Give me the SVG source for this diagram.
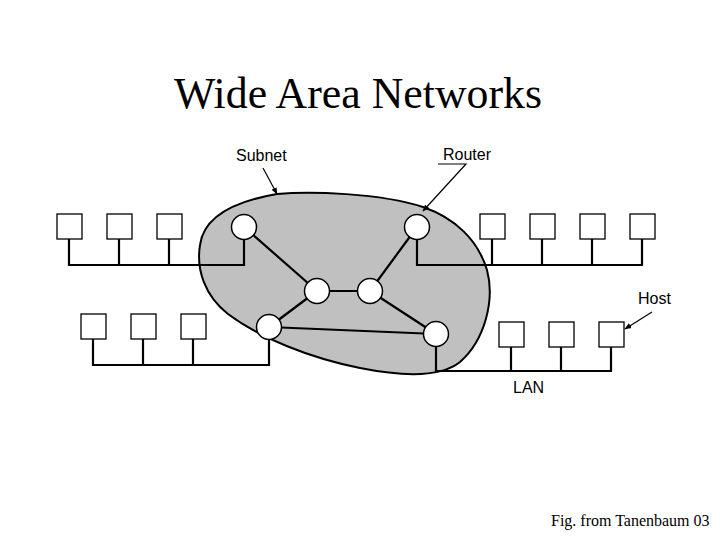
<svg xmlns="http://www.w3.org/2000/svg" width="720" height="540" viewBox="0 0 720 540">
<style>
.title{font-family:"Liberation Serif","Times New Roman",serif;font-size:43.8px;fill:#000}
.foot{font-family:"Liberation Serif","Times New Roman",serif;font-size:16px;fill:#000}
.lbl{font-family:"Liberation Sans",Arial,sans-serif;font-size:16px;fill:#000}
.host{fill:#fff;stroke:#000;stroke-width:1.3}
.router{fill:#fff;stroke:#000;stroke-width:1.5}
.bus{fill:none;stroke:#000;stroke-width:2.2}
.link{fill:none;stroke:#000;stroke-width:2.2}
.ptr{fill:none;stroke:#000;stroke-width:1.2}
</style>
<defs>
<marker id="ah" viewBox="0 0 10 10" refX="9" refY="5" markerWidth="7" markerHeight="7" orient="auto" markerUnits="userSpaceOnUse">
<path d="M0,1 L10,5 L0,9 Z" fill="#000"/>
</marker>
</defs>
<rect width="720" height="540" fill="#fff"/>
<text class="title" x="174" y="108">Wide Area Networks</text>
<g id="subnet">
<path d="M277,194 C310,191 380,193 423,207 C455,218 478,240 487,270 C495,300 485,340 460,362 C440,378 400,376 360,368 C310,358 260,338 228,314 C205,296 196,270 200,245 C203,222 225,203 277,194 Z" fill="#c0c0c0" stroke="#000" stroke-width="2"/>
</g>
<g id="connectors">
<polyline class="bus" points="69,239 69,265 244,265 244,239"/>
<line class="bus" x1="119" y1="239" x2="119" y2="265"/>
<line class="bus" x1="169" y1="239" x2="169" y2="265"/>
<polyline class="bus" points="417,239 417,265 642,265 642,239"/>
<line class="bus" x1="492" y1="239" x2="492" y2="265"/>
<line class="bus" x1="542" y1="239" x2="542" y2="265"/>
<line class="bus" x1="592" y1="239" x2="592" y2="265"/>
<polyline class="bus" points="93,339 93,365 269,365 269,339"/>
<line class="bus" x1="143" y1="339" x2="143" y2="365"/>
<line class="bus" x1="193" y1="339" x2="193" y2="365"/>
<polyline class="bus" points="436,346 436,371 611,371 611,347"/>
<line class="bus" x1="511" y1="347" x2="511" y2="371"/>
<line class="bus" x1="561" y1="347" x2="561" y2="371"/>
<line class="link" x1="244" y1="227" x2="317" y2="291"/>
<line class="link" x1="417" y1="227" x2="370" y2="291"/>
<line class="link" x1="317" y1="291" x2="370" y2="291"/>
<line class="link" x1="317" y1="291" x2="269" y2="327"/>
<line class="link" x1="370" y1="291" x2="436" y2="334"/>
<line class="link" x1="269" y1="327" x2="436" y2="334"/>
<line class="ptr" x1="263" y1="168" x2="277" y2="194" marker-end="url(#ah)"/>
<polyline class="ptr" points="438,164 466,164 423,211" marker-end="url(#ah)"/>
<line class="ptr" x1="652" y1="312" x2="625" y2="329" marker-end="url(#ah)"/>
</g>
<g id="r1"><circle class="router" cx="244" cy="227" r="12.5"/></g>
<g id="r2"><circle class="router" cx="417" cy="227" r="12.5"/></g>
<g id="r3"><circle class="router" cx="317" cy="291" r="12.5"/></g>
<g id="r4"><circle class="router" cx="370" cy="291" r="12.5"/></g>
<g id="r5"><circle class="router" cx="269" cy="327" r="12.5"/></g>
<g id="r6"><circle class="router" cx="436" cy="334" r="12.5"/></g>
<g id="h1"><rect class="host" x="57" y="214" width="25" height="25"/></g>
<g id="h2"><rect class="host" x="107" y="214" width="25" height="25"/></g>
<g id="h3"><rect class="host" x="157" y="214" width="25" height="25"/></g>
<g id="h4"><rect class="host" x="480" y="214" width="25" height="25"/></g>
<g id="h5"><rect class="host" x="530" y="214" width="25" height="25"/></g>
<g id="h6"><rect class="host" x="580" y="214" width="25" height="25"/></g>
<g id="h7"><rect class="host" x="630" y="214" width="25" height="25"/></g>
<g id="h8"><rect class="host" x="81" y="314" width="25" height="25"/></g>
<g id="h9"><rect class="host" x="131" y="314" width="25" height="25"/></g>
<g id="h10"><rect class="host" x="181" y="314" width="25" height="25"/></g>
<g id="h11"><rect class="host" x="499" y="322" width="25" height="25"/></g>
<g id="h12"><rect class="host" x="549" y="322" width="25" height="25"/></g>
<g id="h13"><rect class="host" x="599" y="322" width="25" height="25"/></g>
<text class="lbl" x="236" y="161">Subnet</text>
<text class="lbl" x="443" y="160">Router</text>
<text class="lbl" x="638" y="304">Host</text>
<text class="lbl" x="513" y="393">LAN</text>
<text class="foot" x="551" y="526">Fig. from Tanenbaum 03</text>
</svg>
